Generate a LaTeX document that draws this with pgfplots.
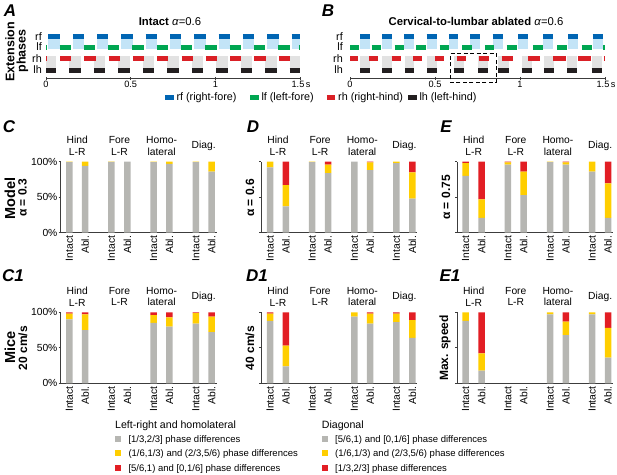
\documentclass[border=0pt]{standalone}
\usepackage{fontspec}
\setmainfont{Liberation Sans}
\usepackage{pgfplots}
\usepackage{pgfplotstable}
\pgfplotsset{compat=1.18}

\definecolor{cRF}{RGB}{0,101,179}
\definecolor{cLF}{RGB}{0,166,81}
\definecolor{cRH}{RGB}{218,32,38}
\definecolor{cLH}{RGB}{35,31,32}
\definecolor{cLB}{RGB}{195,228,247}
\definecolor{cLG}{RGB}{226,226,226}
\definecolor{bgrey}{RGB}{182,182,178}
\definecolor{byel}{RGB}{255,206,0}
\definecolor{bred}{RGB}{226,30,36}
\definecolor{axgrey}{RGB}{60,60,60}

% extension phases: start / end times of each phase, nan = break between phases
\pgfplotstableread[row sep=\\]{t d\\0.012 1\\0.080 1\\nan 1\\0.1585 1\\0.2255 1\\nan 1\\0.302 1\\0.369 1\\nan 1\\0.4455 1\\0.5125 1\\nan 1\\0.589 1\\0.656 1\\nan 1\\0.7325 1\\0.7995 1\\nan 1\\0.876 1\\0.943 1\\nan 1\\1.0195 1\\1.0865 1\\nan 1\\1.163 1\\1.230 1\\nan 1\\1.3065 1\\1.3735 1\\nan 1\\1.450 1\\1.500 1\\}\rfA
\pgfplotstableread[row sep=\\]{t d\\0 1\\0.004 1\\nan 1\\0.080 1\\0.147 1\\nan 1\\0.2235 1\\0.2905 1\\nan 1\\0.367 1\\0.434 1\\nan 1\\0.5105 1\\0.5775 1\\nan 1\\0.654 1\\0.721 1\\nan 1\\0.7975 1\\0.8645 1\\nan 1\\0.941 1\\1.008 1\\nan 1\\1.0845 1\\1.1515 1\\nan 1\\1.228 1\\1.295 1\\nan 1\\1.3715 1\\1.4385 1\\nan 1\\1.494 1\\1.5 1\\}\lfA
\pgfplotstableread[row sep=\\]{t d\\0 1\\0.005 1\\nan 1\\0.083 1\\0.149 1\\nan 1\\0.2265 1\\0.2925 1\\nan 1\\0.370 1\\0.436 1\\nan 1\\0.5135 1\\0.5795 1\\nan 1\\0.657 1\\0.723 1\\nan 1\\0.8005 1\\0.8665 1\\nan 1\\0.944 1\\1.010 1\\nan 1\\1.0875 1\\1.1535 1\\nan 1\\1.231 1\\1.297 1\\nan 1\\1.3745 1\\1.4405 1\\}\rhA
\pgfplotstableread[row sep=\\]{t d\\0 1\\0.062 1\\nan 1\\0.1385 1\\0.2065 1\\nan 1\\0.283 1\\0.351 1\\nan 1\\0.4275 1\\0.4955 1\\nan 1\\0.572 1\\0.640 1\\nan 1\\0.7165 1\\0.7845 1\\nan 1\\0.861 1\\0.929 1\\nan 1\\1.0055 1\\1.0735 1\\nan 1\\1.150 1\\1.218 1\\nan 1\\1.2945 1\\1.3625 1\\nan 1\\1.439 1\\1.500 1\\}\lhA

\pgfplotstableread[row sep=\\]{t d\\0.059 1\\0.117 1\\nan 1\\0.190 1\\0.245 1\\nan 1\\0.319 1\\0.378 1\\nan 1\\0.451 1\\0.510 1\\nan 1\\0.582 1\\0.637 1\\nan 1\\0.706 1\\0.765 1\\nan 1\\0.839 1\\0.898 1\\nan 1\\0.990 1\\1.049 1\\nan 1\\1.137 1\\1.196 1\\nan 1\\1.284 1\\1.343 1\\nan 1\\1.427 1\\1.486 1\\}\rfB
\pgfplotstableread[row sep=\\]{t d\\0 1\\0.053 1\\nan 1\\0.127 1\\0.185 1\\nan 1\\0.263 1\\0.317 1\\nan 1\\0.390 1\\0.449 1\\nan 1\\0.527 1\\0.580 1\\nan 1\\0.660 1\\0.716 1\\nan 1\\0.794 1\\0.847 1\\nan 1\\0.922 1\\0.980 1\\nan 1\\1.075 1\\1.134 1\\nan 1\\1.220 1\\1.278 1\\nan 1\\1.363 1\\1.422 1\\nan 1\\1.490 1\\1.5 1\\}\lfB
\pgfplotstableread[row sep=\\]{t d\\0 1\\0.045 1\\nan 1\\0.112 1\\0.166 1\\nan 1\\0.245 1\\0.300 1\\nan 1\\0.372 1\\0.425 1\\nan 1\\0.500 1\\0.555 1\\nan 1\\0.627 1\\0.683 1\\nan 1\\0.758 1\\0.820 1\\nan 1\\0.892 1\\0.960 1\\nan 1\\1.049 1\\1.118 1\\nan 1\\1.196 1\\1.269 1\\nan 1\\1.343 1\\1.416 1\\nan 1\\1.494 1\\1.5 1\\}\rhB
\pgfplotstableread[row sep=\\]{t d\\0.059 1\\0.117 1\\nan 1\\0.190 1\\0.249 1\\nan 1\\0.323 1\\0.378 1\\nan 1\\0.455 1\\0.510 1\\nan 1\\0.610 1\\0.668 1\\nan 1\\0.755 1\\0.814 1\\nan 1\\0.873 1\\0.937 1\\nan 1\\1.010 1\\1.069 1\\nan 1\\1.141 1\\1.200 1\\nan 1\\1.278 1\\1.337 1\\nan 1\\1.422 1\\1.480 1\\}\lhB

\newcommand{\fs}[1]{\fontsize{#1bp}{1.15\dimexpr #1bp\relax}\selectfont}

\tikzset{grp/.style={font=\fontsize{10.3bp}{11.7bp}\selectfont, align=center, anchor=center, inner sep=0pt, yshift=15.7bp}}

\pgfplotsset{
 topax/.style={scale only axis, width=254bp, height=47.5bp, anchor=south west,
   xmin=0, xmax=1.5, ymin=0.26, ymax=4.5,
   axis x line*=bottom, axis y line=none,
   xtick={0,0.5,1,1.5}, xticklabels={0,0.5,1,{\hspace*{-4bp}1.5\rlap{\,s}}},
   tick align=center, major tick length=3bp,
   axis line style={draw=axgrey, line width=0.7bp},
   major tick style={draw=axgrey, line width=0.7bp},
   x tick label style={font=\fs{9.2}, inner sep=1.5bp},
   unbounded coords=jump, clip=false},
 barax/.style={scale only axis, width=156.1bp, height=71bp, anchor=south west,
   xmin=-0.55, xmax=9.3, ymin=0, ymax=100,
   ybar stacked, bar width=6.5bp,
   axis x line*=bottom, axis y line*=left,
   axis line style={draw=axgrey, line width=0.7bp},
   xtick={0,1,2.66,3.66,5.32,6.32,7.98,8.98},
   xticklabels={Intact,Abl.,Intact,Abl.,Intact,Abl.,Intact,Abl.},
   x tick label style={rotate=90, anchor=east, font=\fs{10.3}, inner sep=1bp},
   major x tick style={draw=none},
   ytick={0,50,100}, yticklabels={{},{},{}},
   y tick label style={font=\fs{10.3}, inner sep=1bp},
   major y tick style={draw=axgrey, line width=0.7bp},
   tick align=outside, major tick length=2bp,
   clip=false},
}

\begin{document}
\begin{tikzpicture}
\path[use as bounding box] (0,0) rectangle (617bp,-475bp);

% ---------------- Panel A ----------------
\begin{axis}[topax, at={(46bp,-78.3bp)}]
\addplot[draw=cLB, line width=12.8bp] table[x=t, y expr=3.43] {\rfA};
\addplot[draw=cLG, line width=14bp] table[x=t, y expr=1.625] {\lhA};
\addplot[draw=cRF, line width=5bp] table[x=t, y expr=4] {\rfA};
\addplot[draw=cLF, line width=5bp] table[x=t, y expr=3] {\lfA};
\addplot[draw=cRH, line width=5bp] table[x=t, y expr=2] {\rhA};
\addplot[draw=cLH, line width=5bp] table[x=t, y expr=1] {\lhA};
\end{axis}

% ---------------- Panel B ----------------
\begin{axis}[topax, at={(350bp,-78.3bp)}, width=255bp]
\addplot[draw=cLB, line width=12.8bp] table[x=t, y expr=3.43] {\rfB};
\addplot[draw=cLG, line width=14bp] table[x=t, y expr=1.625] {\lhB};
\addplot[draw=cRF, line width=5bp] table[x=t, y expr=4] {\rfB};
\addplot[draw=cLF, line width=5bp] table[x=t, y expr=3] {\lfB};
\addplot[draw=cRH, line width=5bp] table[x=t, y expr=2] {\rhB};
\addplot[draw=cLH, line width=5bp] table[x=t, y expr=1] {\lhB};
\addplot[draw=black, line width=0.8bp, dash pattern=on 4bp off 2.5bp] coordinates {(0.592,2.49) (0.859,2.49) (0.859,-0.13) (0.592,-0.13) (0.592,2.49)};
\end{axis}

% top texts
\node[font=\bfseries\itshape\fs{17}] at (10bp,-11bp) {A};
\node[font=\bfseries\itshape\fs{17}] at (328bp,-11bp) {B};
\node[font=\fs{11.3}] at (170bp,-21.7bp) {\textbf{Intact} \textit{α}=0.6};
\node[font=\fs{11.3}] at (476bp,-21.7bp) {\textbf{Cervical-to-lumbar ablated} \textit{α}=0.6};
\node[rotate=90, font=\bfseries\fs{12.5}] at (10bp,-51.7bp) {Extension};
\node[rotate=90, font=\bfseries\fs{12.5}] at (22.5bp,-50.8bp) {phases};
\foreach \lab/\yy in {rf/36.5, lf/47, rh/58.8, lh/70}{
  \node[anchor=east, font=\fs{10.8}, inner sep=0pt] at (42bp,-\yy bp) {\lab};
  \node[anchor=east, font=\fs{10.8}, inner sep=0pt] at (343bp,-\yy bp) {\lab};
}
% top legend
\node[anchor=base west, inner sep=0pt, font=\fs{10.8}] at (165bp,-100.5bp) {\textcolor{cRF}{\rule[0.5bp]{8.3bp}{5bp}}\hspace{3bp}rf (right-fore)};
\node[anchor=base west, inner sep=0pt, font=\fs{10.8}] at (250bp,-100.5bp) {\textcolor{cLF}{\rule[0.5bp]{8.3bp}{5bp}}\hspace{3bp}lf (left-fore)};
\node[anchor=base west, inner sep=0pt, font=\fs{10.8}] at (326.7bp,-100.5bp) {\textcolor{cRH}{\rule[0.5bp]{8.3bp}{5bp}}\hspace{3bp}rh (right-hind)};
\node[anchor=base west, inner sep=0pt, font=\fs{10.8}] at (408bp,-100.5bp) {\textcolor{cLH}{\rule[0.5bp]{8.3bp}{5bp}}\hspace{3bp}lh (left-hind)};

% ---------------- Panel C ----------------
\begin{axis}[barax, at={(60.6bp,-232.7bp)}, yticklabels={0\%,50\%,100\%}]
\addplot[fill=bgrey, draw=none] coordinates {(0,99.5) (1,94) (2.66,99.6) (3.66,100) (5.32,99.5) (6.32,97) (7.98,99.5) (8.98,86)};
\addplot[fill=byel, draw=none] coordinates {(0,0.5) (1,6) (2.66,0.4) (3.66,0) (5.32,0.5) (6.32,3) (7.98,0.5) (8.98,14)};
\addplot[fill=bred, draw=none] coordinates {(0,0) (1,0) (2.66,0) (3.66,0) (5.32,0) (6.32,0) (7.98,0) (8.98,0)};
\node[grp] at (axis cs:0.5,100) {Hind\\L-R};
\node[grp] at (axis cs:3.16,100) {Fore\\L-R};
\node[grp] at (axis cs:5.82,100) {Homo-\\lateral};
\node[grp] at (axis cs:8.48,100) {Diag.};
\end{axis}

% ---------------- Panel D ----------------
\begin{axis}[barax, at={(261.3bp,-232.7bp)}]
\addplot[fill=bgrey, draw=none] coordinates {(0,92) (1,37) (2.66,99.5) (3.66,84) (5.32,100) (6.32,88) (7.98,98) (8.98,48)};
\addplot[fill=byel, draw=none] coordinates {(0,8) (1,30) (2.66,0.5) (3.66,12) (5.32,0) (6.32,11) (7.98,2) (8.98,37)};
\addplot[fill=bred, draw=none] coordinates {(0,0) (1,33) (2.66,0) (3.66,4) (5.32,0) (6.32,1) (7.98,0) (8.98,15)};
\node[grp] at (axis cs:0.5,100) {Hind\\L-R};
\node[grp] at (axis cs:3.16,100) {Fore\\L-R};
\node[grp] at (axis cs:5.82,100) {Homo-\\lateral};
\node[grp] at (axis cs:8.48,100) {Diag.};
\end{axis}

% ---------------- Panel E ----------------
\begin{axis}[barax, at={(457bp,-232.7bp)}]
\addplot[fill=bgrey, draw=none] coordinates {(0,80) (1,21) (2.66,96) (3.66,53) (5.32,99.5) (6.32,96) (7.98,86) (8.98,21)};
\addplot[fill=byel, draw=none] coordinates {(0,18) (1,26) (2.66,3) (3.66,33) (5.32,0.5) (6.32,3) (7.98,14) (8.98,48.5)};
\addplot[fill=bred, draw=none] coordinates {(0,2) (1,53) (2.66,1) (3.66,14) (5.32,0) (6.32,1) (7.98,0) (8.98,30.5)};
\node[grp] at (axis cs:0.5,100) {Hind\\L-R};
\node[grp] at (axis cs:3.16,100) {Fore\\L-R};
\node[grp] at (axis cs:5.82,100) {Homo-\\lateral};
\node[grp] at (axis cs:8.48,100) {Diag.};
\end{axis}

% ---------------- Panel C1 ----------------
\begin{axis}[barax, at={(60.6bp,-383.3bp)}, yticklabels={0\%,50\%,100\%}]
\addplot[fill=bgrey, draw=none] coordinates {(0,90) (1,75) (5.32,85) (6.32,80) (7.98,84) (8.98,72)};
\addplot[fill=byel, draw=none] coordinates {(0,8) (1,22) (5.32,11) (6.32,13) (7.98,15) (8.98,22)};
\addplot[fill=bred, draw=none] coordinates {(0,2) (1,3) (5.32,4) (6.32,7) (7.98,1) (8.98,6)};
\node[grp] at (axis cs:0.5,100) {Hind\\L-R};
\node[grp] at (axis cs:3.16,100) {Fore\\L-R};
\node[grp] at (axis cs:5.82,100) {Homo-\\lateral};
\node[grp] at (axis cs:8.48,100) {Diag.};
\end{axis}

% ---------------- Panel D1 ----------------
\begin{axis}[barax, at={(261.3bp,-383.3bp)}]
\addplot[fill=bgrey, draw=none] coordinates {(0,88) (1,24) (5.32,94) (6.32,84) (7.98,86) (8.98,64)};
\addplot[fill=byel, draw=none] coordinates {(0,10) (1,29) (5.32,6) (6.32,14) (7.98,12) (8.98,25)};
\addplot[fill=bred, draw=none] coordinates {(0,2) (1,47) (5.32,0) (6.32,2) (7.98,2) (8.98,11)};
\node[grp] at (axis cs:0.5,100) {Hind\\L-R};
\node[grp] at (axis cs:3.16,100) {Fore\\L-R};
\node[grp] at (axis cs:5.82,100) {Homo-\\lateral};
\node[grp] at (axis cs:8.48,100) {Diag.};
\end{axis}

% ---------------- Panel E1 ----------------
\begin{axis}[barax, at={(457bp,-383.3bp)}]
\addplot[fill=bgrey, draw=none] coordinates {(0,88) (1,18) (5.32,97) (6.32,68) (7.98,97) (8.98,36)};
\addplot[fill=byel, draw=none] coordinates {(0,12) (1,24) (5.32,3) (6.32,19) (7.98,3) (8.98,42)};
\addplot[fill=bred, draw=none] coordinates {(0,0) (1,58) (5.32,0) (6.32,13) (7.98,0) (8.98,22)};
\node[grp] at (axis cs:0.5,100) {Hind\\L-R};
\node[grp] at (axis cs:3.16,100) {Fore\\L-R};
\node[grp] at (axis cs:5.82,100) {Homo-\\lateral};
\node[grp] at (axis cs:8.48,100) {Diag.};
\end{axis}

% panel letters and row labels
\node[font=\bfseries\itshape\fs{17}] at (9bp,-126.5bp) {C};
\node[font=\bfseries\itshape\fs{17}] at (253bp,-126.5bp) {D};
\node[font=\bfseries\itshape\fs{17}] at (446bp,-126.5bp) {E};
\node[font=\bfseries\itshape\fs{17}] at (13bp,-276bp) {C1};
\node[font=\bfseries\itshape\fs{17}] at (257bp,-276bp) {D1};
\node[font=\bfseries\itshape\fs{17}] at (450bp,-276bp) {E1};

\node[rotate=90, font=\bfseries\fs{14.5}] at (10bp,-198.3bp) {Model};
\node[rotate=90, font=\bfseries\fs{12}] at (22.5bp,-198bp) {α = 0.3};
\node[rotate=90, font=\bfseries\fs{12}] at (250bp,-198bp) {α = 0.6};
\node[rotate=90, font=\bfseries\fs{12}] at (446bp,-197.5bp) {α = 0.75};
\node[rotate=90, font=\bfseries\fs{14.5}] at (10bp,-347.5bp) {Mice};
\node[rotate=90, font=\bfseries\fs{12}] at (23bp,-348bp) {20 cm/s};
\node[rotate=90, font=\bfseries\fs{12}] at (250bp,-348bp) {40 cm/s};
\node[rotate=90, font=\bfseries\fs{12}] at (445bp,-348bp) {Max. speed};

% bottom legend
\node[anchor=base west, inner sep=0pt, font=\fs{10.6}] at (115bp,-428.8bp) {Left-right and homolateral};
\node[anchor=base west, inner sep=0pt, font=\fs{9.5}] at (115bp,-442.4bp) {\textcolor{bgrey}{\rule[0.3bp]{6bp}{6bp}}\hspace{7.3bp}[1/3,2/3] phase differences};
\node[anchor=base west, inner sep=0pt, font=\fs{9.5}] at (115bp,-456.7bp) {\textcolor{byel}{\rule[0.3bp]{6bp}{6bp}}\hspace{7.3bp}(1/6,1/3) and (2/3,5/6) phase differences};
\node[anchor=base west, inner sep=0pt, font=\fs{9.5}] at (115bp,-471bp) {\textcolor{bred}{\rule[0.3bp]{6bp}{6bp}}\hspace{7.3bp}[5/6,1) and [0,1/6] phase differences};
\node[anchor=base west, inner sep=0pt, font=\fs{10.6}] at (321.7bp,-428.8bp) {Diagonal};
\node[anchor=base west, inner sep=0pt, font=\fs{9.5}] at (321.7bp,-442.4bp) {\textcolor{bgrey}{\rule[0.3bp]{6bp}{6bp}}\hspace{7.3bp}[5/6,1) and [0,1/6] phase differences};
\node[anchor=base west, inner sep=0pt, font=\fs{9.5}] at (321.7bp,-456.7bp) {\textcolor{byel}{\rule[0.3bp]{6bp}{6bp}}\hspace{7.3bp}(1/6,1/3) and (2/3,5/6) phase differences};
\node[anchor=base west, inner sep=0pt, font=\fs{9.5}] at (321.7bp,-471bp) {\textcolor{bred}{\rule[0.3bp]{6bp}{6bp}}\hspace{7.3bp}[1/3,2/3] phase differences};
\end{tikzpicture}
\end{document}
